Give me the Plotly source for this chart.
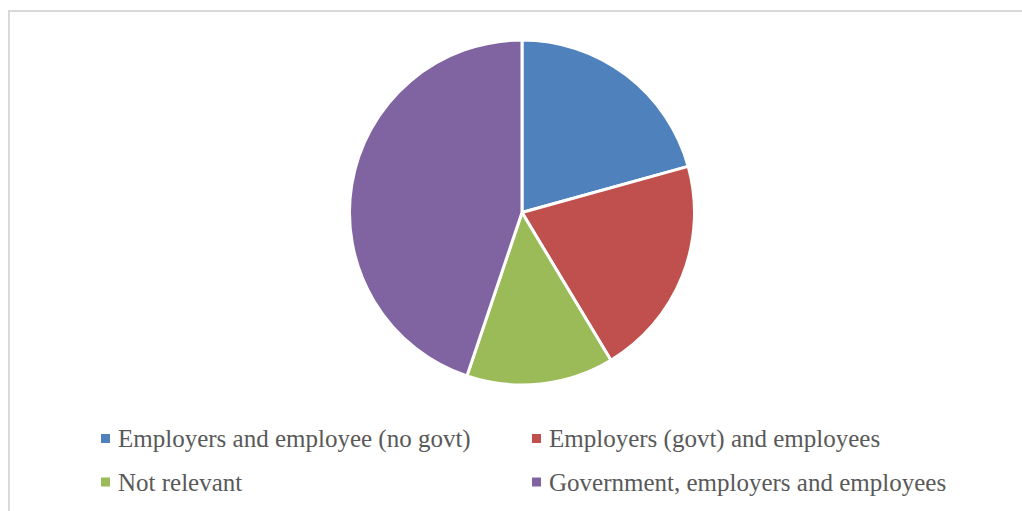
import plotly.graph_objects as go

# Who pays: share of responses by funding arrangement
labels = [
    "Employers and employee (no govt)",
    "Employers (govt) and employees",
    "Not relevant",
    "Government, employers and employees",
]
values = [6, 6, 4, 13]
colors = ["#4F81BD", "#C0504D", "#9BBB59", "#8064A2"]

W, H = 1022, 511

fig = go.Figure(
    go.Pie(
        labels=labels,
        values=values,
        sort=False,
        direction="clockwise",
        rotation=0,
        marker=dict(colors=colors, line=dict(color="white", width=3)),
        textinfo="none",
        hoverinfo="label+percent",
        domain=dict(x=[348 / W, 696 / W], y=[1 - 385 / H, 1 - 40 / H]),
        showlegend=False,
    )
)

# Chart frame (left and top edges)
fig.add_shape(type="line", xref="paper", yref="paper",
              x0=9 / W, x1=9 / W, y0=0, y1=1 - 10 / H,
              line=dict(color="#D9D9D9", width=2))
fig.add_shape(type="line", xref="paper", yref="paper",
              x0=8 / W, x1=1, y0=1 - 11 / H, y1=1 - 11 / H,
              line=dict(color="#D9D9D9", width=2))

# Two-column legend below the pie
legend_pos = [(105.5, 438.5), (536.5, 438.5), (105.5, 482.0), (536.5, 482.0)]
for (cx, cy), name, col in zip(legend_pos, labels, colors):
    fig.add_shape(type="rect", xref="paper", yref="paper",
                  x0=(cx - 4.5) / W, x1=(cx + 4.5) / W,
                  y0=1 - (cy + 4.5) / H, y1=1 - (cy - 4.5) / H,
                  fillcolor=col, line=dict(width=0))
    fig.add_annotation(xref="paper", yref="paper",
                       x=(cx + 10) / W, y=1 - cy / H,
                       xanchor="left", yanchor="middle",
                       text=name, showarrow=False,
                       font=dict(family="Liberation Serif", size=25, color="#595959"))

fig.update_layout(
    width=W, height=H,
    margin=dict(l=0, r=0, t=0, b=0),
    paper_bgcolor="white",
    plot_bgcolor="white",
)

fig.write_html("out.html")
